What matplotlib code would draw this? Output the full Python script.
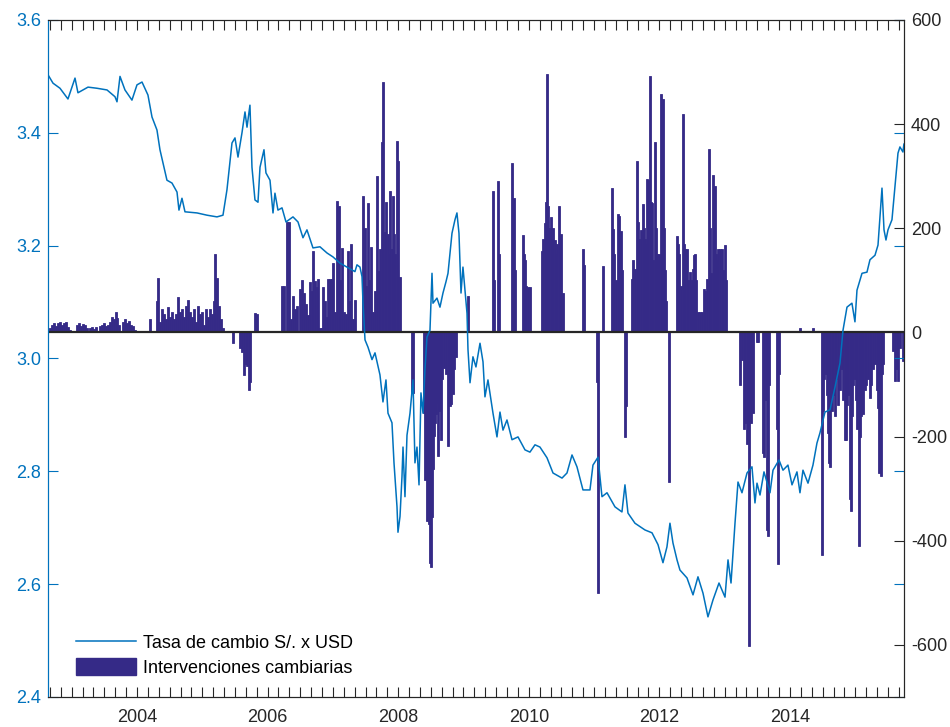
import numpy as np
import matplotlib
matplotlib.use('Agg')
import matplotlib.pyplot as plt
from matplotlib.lines import Line2D
from matplotlib.patches import Patch

plt.rcParams['font.family'] = ['Liberation Sans', 'DejaVu Sans']
plt.rcParams['axes.unicode_minus'] = False

# exchange rate S/. per USD (decimal years)
rate_year = [2002.642, 2002.714, 2002.821, 2002.943, 2003.051, 2003.096, 2003.250, 2003.387,
             2003.541, 2003.663, 2003.694, 2003.740, 2003.816, 2003.923, 2004.000, 2004.077,
             2004.168, 2004.230, 2004.306, 2004.352, 2004.398, 2004.459, 2004.536, 2004.613,
             2004.643, 2004.689, 2004.735, 2004.919, 2005.072, 2005.225, 2005.317, 2005.378,
             2005.455, 2005.501, 2005.547, 2005.608, 2005.654, 2005.685, 2005.730, 2005.761,
             2005.807, 2005.853, 2005.884, 2005.945, 2005.975, 2006.037, 2006.083, 2006.113,
             2006.159, 2006.221, 2006.282, 2006.389, 2006.466, 2006.542, 2006.603, 2006.695,
             2006.802, 2006.910, 2007.002, 2007.109, 2007.216, 2007.338, 2007.369, 2007.415,
             2007.446, 2007.461, 2007.492, 2007.538, 2007.599, 2007.645, 2007.721, 2007.767,
             2007.813, 2007.844, 2007.905, 2007.936, 2007.982, 2007.997, 2008.028, 2008.058,
             2008.074, 2008.104, 2008.135, 2008.181, 2008.227, 2008.257, 2008.288, 2008.319,
             2008.349, 2008.380, 2008.410, 2008.441, 2008.487, 2008.518, 2008.533, 2008.594,
             2008.640, 2008.686, 2008.732, 2008.763, 2008.824, 2008.870, 2008.900, 2008.931,
             2008.962, 2008.992, 2009.054, 2009.069, 2009.100, 2009.145, 2009.191, 2009.253,
             2009.299, 2009.329, 2009.375, 2009.452, 2009.513, 2009.559, 2009.605, 2009.666,
             2009.743, 2009.835, 2009.942, 2010.018, 2010.095, 2010.171, 2010.279, 2010.371,
             2010.509, 2010.585, 2010.662, 2010.738, 2010.830, 2010.937, 2010.983, 2011.060,
             2011.121, 2011.198, 2011.320, 2011.427, 2011.473, 2011.519, 2011.626, 2011.780,
             2011.887, 2011.979, 2012.055, 2012.116, 2012.162, 2012.208, 2012.270, 2012.315,
             2012.423, 2012.515, 2012.591, 2012.668, 2012.744, 2012.821, 2012.913, 2013.005,
             2013.051, 2013.097, 2013.158, 2013.204, 2013.265, 2013.342, 2013.418, 2013.464,
             2013.495, 2013.541, 2013.602, 2013.694, 2013.740, 2013.832, 2013.893, 2013.969,
             2014.031, 2014.107, 2014.153, 2014.199, 2014.276, 2014.352, 2014.413, 2014.459,
             2014.536, 2014.613, 2014.689, 2014.766, 2014.812, 2014.873, 2014.949, 2014.995,
             2015.026, 2015.103, 2015.179, 2015.225, 2015.302, 2015.348, 2015.409, 2015.440,
             2015.470, 2015.501, 2015.562, 2015.608, 2015.654, 2015.684, 2015.730, 2015.745]
rate_val = [3.502, 3.488, 3.479, 3.460, 3.497, 3.471, 3.481, 3.479,
            3.476, 3.464, 3.455, 3.500, 3.476, 3.458, 3.485, 3.490,
            3.467, 3.428, 3.405, 3.370, 3.347, 3.316, 3.311, 3.295,
            3.263, 3.284, 3.260, 3.258, 3.254, 3.251, 3.254, 3.299,
            3.382, 3.391, 3.357, 3.400, 3.437, 3.410, 3.449, 3.339,
            3.281, 3.277, 3.339, 3.370, 3.329, 3.316, 3.258, 3.293,
            3.263, 3.267, 3.242, 3.251, 3.242, 3.214, 3.228, 3.196,
            3.198, 3.187, 3.180, 3.169, 3.162, 3.154, 3.166, 3.162,
            3.145, 3.100, 3.033, 3.020, 2.998, 3.010, 2.971, 2.923,
            2.962, 2.903, 2.886, 2.815, 2.737, 2.692, 2.720, 2.790,
            2.843, 2.755, 2.864, 2.903, 2.962, 2.815, 2.843, 2.776,
            2.939, 2.903, 2.980, 3.038, 3.050, 3.151, 3.098, 3.107,
            3.091, 3.116, 3.136, 3.151, 3.222, 3.246, 3.258, 3.222,
            3.116, 3.162, 3.080, 3.016, 2.957, 3.003, 2.985, 3.027,
            2.994, 2.932, 2.962, 2.903, 2.861, 2.905, 2.873, 2.891,
            2.856, 2.861, 2.838, 2.834, 2.847, 2.843, 2.824, 2.797,
            2.788, 2.797, 2.829, 2.808, 2.767, 2.767, 2.811, 2.825,
            2.755, 2.762, 2.737, 2.728, 2.776, 2.726, 2.708, 2.696,
            2.691, 2.670, 2.638, 2.666, 2.708, 2.673, 2.643, 2.625,
            2.611, 2.581, 2.613, 2.584, 2.542, 2.572, 2.602, 2.577,
            2.643, 2.602, 2.708, 2.781, 2.762, 2.797, 2.808, 2.744,
            2.779, 2.758, 2.799, 2.762, 2.802, 2.820, 2.802, 2.811,
            2.776, 2.799, 2.762, 2.802, 2.779, 2.811, 2.850, 2.868,
            2.905, 2.909, 2.949, 2.992, 3.050, 3.091, 3.098, 3.065,
            3.121, 3.151, 3.153, 3.175, 3.183, 3.201, 3.302, 3.228,
            3.210, 3.228, 3.246, 3.304, 3.364, 3.375, 3.366, 3.380]

# FX interventions (millions USD)
bar_year = [2002.668, 2002.698, 2002.729, 2002.760, 2002.790, 2002.821, 2002.851, 2002.882,
            2002.913, 2002.943, 2002.974, 2003.081, 2003.112, 2003.142, 2003.173, 2003.204,
            2003.234, 2003.280, 2003.311, 2003.342, 2003.372, 2003.433, 2003.464, 2003.495,
            2003.525, 2003.556, 2003.587, 2003.617, 2003.648, 2003.678, 2003.694, 2003.724,
            2003.786, 2003.816, 2003.847, 2003.877, 2003.908, 2003.939, 2003.969, 2004.199,
            2004.306, 2004.322, 2004.352, 2004.383, 2004.413, 2004.444, 2004.475, 2004.505,
            2004.536, 2004.567, 2004.597, 2004.628, 2004.658, 2004.689, 2004.720, 2004.750,
            2004.781, 2004.812, 2004.842, 2004.873, 2004.904, 2004.934, 2004.965, 2004.995,
            2005.026, 2005.057, 2005.087, 2005.118, 2005.149, 2005.179, 2005.194, 2005.225,
            2005.256, 2005.286, 2005.317, 2005.348, 2005.470, 2005.577, 2005.608, 2005.639,
            2005.669, 2005.685, 2005.715, 2005.730, 2005.807, 2005.838, 2006.129, 2006.221,
            2006.251, 2006.297, 2006.328, 2006.358, 2006.389, 2006.420, 2006.450, 2006.496,
            2006.527, 2006.557, 2006.588, 2006.619, 2006.649, 2006.680, 2006.695, 2006.726,
            2006.757, 2006.772, 2006.802, 2006.833, 2006.848, 2006.879, 2006.910, 2006.925,
            2006.956, 2006.986, 2007.002, 2007.032, 2007.063, 2007.093, 2007.109, 2007.139,
            2007.170, 2007.201, 2007.231, 2007.262, 2007.277, 2007.308, 2007.338, 2007.461,
            2007.492, 2007.507, 2007.538, 2007.553, 2007.583, 2007.614, 2007.645, 2007.675,
            2007.706, 2007.721, 2007.752, 2007.767, 2007.798, 2007.813, 2007.844, 2007.859,
            2007.874, 2007.905, 2007.920, 2007.936, 2007.951, 2007.982, 2007.997, 2008.028,
            2008.211, 2008.227, 2008.395, 2008.410, 2008.426, 2008.441, 2008.456, 2008.472,
            2008.487, 2008.502, 2008.518, 2008.533, 2008.548, 2008.564, 2008.579, 2008.594,
            2008.610, 2008.625, 2008.640, 2008.656, 2008.671, 2008.701, 2008.732, 2008.763,
            2008.778, 2008.793, 2008.809, 2008.824, 2008.839, 2008.855, 2008.870, 2008.885,
            2009.069, 2009.452, 2009.467, 2009.528, 2009.544, 2009.743, 2009.758, 2009.773,
            2009.789, 2009.911, 2009.927, 2009.942, 2009.957, 2009.988, 2010.018, 2010.202,
            2010.218, 2010.248, 2010.263, 2010.279, 2010.294, 2010.309, 2010.340, 2010.355,
            2010.371, 2010.401, 2010.417, 2010.432, 2010.463, 2010.478, 2010.493, 2010.524,
            2010.830, 2010.845, 2011.044, 2011.060, 2011.136, 2011.274, 2011.289, 2011.305,
            2011.335, 2011.366, 2011.381, 2011.412, 2011.427, 2011.473, 2011.489, 2011.580,
            2011.596, 2011.626, 2011.657, 2011.672, 2011.688, 2011.718, 2011.749, 2011.764,
            2011.780, 2011.795, 2011.810, 2011.825, 2011.856, 2011.871, 2011.887, 2011.902,
            2011.933, 2011.948, 2011.963, 2011.979, 2011.994, 2012.025, 2012.040, 2012.055,
            2012.071, 2012.086, 2012.101, 2012.147, 2012.270, 2012.285, 2012.300, 2012.331,
            2012.361, 2012.377, 2012.392, 2012.423, 2012.438, 2012.469, 2012.484, 2012.499,
            2012.515, 2012.530, 2012.545, 2012.561, 2012.591, 2012.622, 2012.652, 2012.683,
            2012.698, 2012.729, 2012.760, 2012.775, 2012.790, 2012.821, 2012.836, 2012.852,
            2012.867, 2012.882, 2012.897, 2012.928, 2012.959, 2012.974, 2013.005, 2013.020,
            2013.234, 2013.265, 2013.296, 2013.311, 2013.342, 2013.357, 2013.372, 2013.387,
            2013.403, 2013.418, 2013.433, 2013.495, 2013.510, 2013.587, 2013.602, 2013.633,
            2013.648, 2013.663, 2013.678, 2013.801, 2013.816, 2013.832, 2014.153, 2014.352,
            2014.490, 2014.505, 2014.521, 2014.551, 2014.567, 2014.582, 2014.597, 2014.613,
            2014.643, 2014.659, 2014.689, 2014.704, 2014.735, 2014.766, 2014.796, 2014.812,
            2014.842, 2014.858, 2014.873, 2014.888, 2014.919, 2014.934, 2014.949, 2014.965,
            2014.995, 2015.011, 2015.026, 2015.057, 2015.072, 2015.087, 2015.103, 2015.118,
            2015.149, 2015.164, 2015.195, 2015.225, 2015.240, 2015.271, 2015.302, 2015.332,
            2015.348, 2015.363, 2015.393, 2015.409, 2015.424, 2015.577, 2015.608, 2015.639,
            2015.654, 2015.684, 2015.730]
bar_val = [8, 15, 18, 12, 18, 20, 15, 18,
           20, 10, 5, 15, 18, 12, 17, 15,
           8, 8, 10, 6, 10, 12, 15, 18,
           12, 15, 20, 30, 25, 40, 28, 15,
           20, 25, 18, 22, 15, 12, 5, 25,
           60, 105, 20, 45, 35, 25, 49, 30,
           40, 25, 35, 68, 40, 45, 30, 50,
           62, 40, 30, 45, 20, 50, 35, 40,
           15, 45, 30, 45, 35, 60, 151, 105,
           50, 25, 8, 3, -20, -30, -37, -81,
           -60, -65, -110, -95, 38, 35, 2, 90,
           90, 213, 213, 25, 70, 45, 50, 83,
           100, 75, 55, 33, 96, 80, 157, 98,
           87, 102, 8, 8, 87, 60, 30, 102,
           102, 102, 134, 40, 252, 243, 100, 163,
           40, 35, 156, 60, 169, 25, 63, 262,
           201, 90, 248, 100, 165, 40, 80, 300,
           118, 160, 365, 481, 192, 250, 190, 150,
           272, 160, 262, 190, 150, 367, 329, 106,
           -115, -117, -154, -283, -258, -363, -327, -367,
           -442, -450, -354, -263, -198, -173, -156, -135,
           -237, -150, -100, -206, -90, -69, -80, -219,
           -90, -142, -138, -96, -119, -71, -44, -48,
           70, 272, 100, 291, 150, 325, 200, 259,
           120, 188, 150, 140, 90, 88, 88, 156,
           180, 211, 250, 496, 243, 200, 221, 180,
           200, 177, 150, 170, 243, 150, 190, 75,
           161, 130, -95, -500, 127, 278, 198, 150,
           100, 227, 223, 194, 120, -200, -142, 102,
           140, 121, 329, 213, 180, 196, 246, 200,
           179, 170, 294, 292, 492, 250, 248, 140,
           365, 200, 150, 140, 150, 458, 300, 448,
           200, 120, 60, -287, 185, 170, 150, 90,
           419, 170, 160, 160, 100, 117, 90, 100,
           121, 148, 150, 100, 40, 40, 40, 83,
           79, 102, 352, 200, 115, 302, 200, 281,
           150, 140, 160, 160, 160, 120, 167, 100,
           -100, -52, -185, -173, -215, -183, -603, -138,
           -173, -130, -154, -19, -19, -231, -240, -130,
           -379, -390, -100, -185, -445, -80, 8, 8,
           -428, -150, -90, -80, -121, -194, -250, -258,
           -150, -120, -160, -90, -140, -110, -70, -129,
           -206, -206, -140, -120, -320, -342, -160, -100,
           -90, -130, -185, -410, -200, -160, -150, -156,
           -110, -100, -90, -125, -100, -70, -60, -110,
           -146, -270, -275, -80, -60, -36, -93, -71,
           -94, -30, -55]

year_labels = [2004, 2006, 2008, 2010, 2012, 2014]
left_ticks = [2.4, 2.6, 2.8, 3.0, 3.2, 3.4, 3.6]
right_ticks = [-600, -400, -200, 0, 200, 400, 600]

blue = '#0072BD'
navy = '#352A87'
dark = '#262626'

fig = plt.figure(figsize=(9.5, 7.27), dpi=100)
ax = fig.add_axes([0.0505, 0.0413, 0.901, 0.9312])
ax2 = ax.twinx()
# line over the bars
ax.set_zorder(ax2.get_zorder() + 1)
ax.patch.set_visible(False)

ax2.bar(bar_year, bar_val, width=0.022, color=navy, edgecolor=navy, linewidth=0.6)
ax2.axhline(0, color=dark, lw=1.6, zorder=3)
ax.plot(rate_year, rate_val, color=blue, lw=1.1)

# x ticks every two months, labels on even years
xt = np.arange(2002, 2016.01, 1/6)
ax.set_xticks(xt)
ax.set_xticklabels([str(int(round(t))) if abs(t - round(t)) < 1e-6 and int(round(t)) in year_labels else ''
                    for t in xt])
ax.tick_params(axis='x', direction='in', length=7, width=0.8, top=True, bottom=True,
               colors=dark, labelsize=13, pad=9)

ax.set_yticks(left_ticks)
ax.set_yticklabels([f'{v:.1f}' for v in left_ticks])
ax.tick_params(axis='y', direction='in', length=7, width=0.8, left=True, right=True,
               colors=blue, labelsize=13, pad=5)

ax2.set_yticks(right_ticks)
ax2.tick_params(axis='y', direction='in', length=7, width=0.8, colors=dark, labelsize=13, pad=5)

ax.set_xlim(2002.637, 2015.745)
ax.set_ylim(2.4, 3.6)
ax2.set_ylim(-700, 600)

for s in ['top', 'bottom']:
    ax.spines[s].set_color(dark)
    ax2.spines[s].set_color(dark)
ax.spines['left'].set_color(blue)
ax2.spines['left'].set_color(blue)
ax.spines['right'].set_color(dark)
ax2.spines['right'].set_color(dark)

handles = [Line2D([], [], color=blue, lw=1.1), Patch(facecolor=navy, edgecolor=navy)]
ax.legend(handles, ['Tasa de cambio S/. x USD', 'Intervenciones cambiarias'],
          loc='lower left', bbox_to_anchor=(0.033, 0.03), frameon=False, fontsize=13,
          handlelength=3.3, handleheight=1.0, labelspacing=0.35, handletextpad=0.4,
          borderpad=0, borderaxespad=0)

fig.savefig('out.png', dpi=100)
